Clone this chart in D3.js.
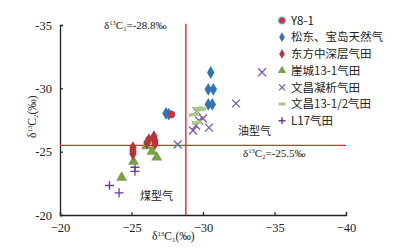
<!DOCTYPE html>
<html><head><meta charset="utf-8">
<script src="https://cdn.jsdelivr.net/npm/d3@7"></script>
<style>
html,body{margin:0;padding:0;background:#fff;}
svg{display:block;}
text{fill:#222;}
</style>
</head><body>
<svg id="chart" width="403" height="248"></svg>
<script>
// ---- data (x = δ13C1, y = δ13C2, ‰) ----
const xTicks = [-20, -25, -30, -35, -40];
const yTicks = [-20, -25, -30, -35];
const seriesNames = ["Y8-1", "松东、宝岛天然气", "东方中深层气田", "崖城13-1气田", "文昌凝析气田", "文昌13-1/2气田", "L17气田"];

const y81X = [-27.78];
const y81Y = [-27.94];

const songdongX = [-30.54, -30.37, -30.72, -30.37, -30.65, -27.41, -27.60];
const songdongY = [-31.25, -29.92, -29.92, -28.73, -28.73, -28.02, -27.96];

const dongfangX = [-25.10, -25.10, -25.10, -26.08, -26.22, -26.57, -26.64, -26.64];
const dongfangY = [-25.32, -25.08, -24.84, -25.71, -25.95, -26.19, -25.87, -25.63];

const yachengX = [-24.31, -25.14, -26.05, -26.43, -26.76];
const yachengY = [-22.96, -24.21, -25.44, -25.00, -24.55];

const wenchangCondX = [-34.13, -32.31, -28.23, -29.30, -29.51, -29.72, -30.00, -30.42, -29.55];
const wenchangCondY = [-31.27, -28.81, -25.56, -26.67, -27.06, -27.46, -27.62, -26.90, -28.20];

const wenchang131X = [-29.65, -29.86, -29.37, -29.58];
const wenchang131Y = [-28.41, -28.33, -27.94, -27.30];

const l17X = [-23.46, -24.13, -25.24, -25.24];
const l17Y = [-22.33, -21.75, -23.77, -23.45];

const boundaryC1 = -28.8;
const boundaryC2 = -25.5;

// ---- drawing ----
const svg = d3.select("#chart");
const x = d3.scaleLinear().domain([-20, -40]).range([60, 346]);
const y = d3.scaleLinear().domain([-20, -35]).range([215, 25]);

const serif = "'Liberation Serif','DejaVu Serif',serif";
const cjk = "'Noto Sans CJK SC','Noto Sans CJK JP',sans-serif";

// axes
const xAxis = d3.axisBottom(x).tickValues(xTicks).tickSize(-3).tickPadding(8).tickFormat(d => d === 0 ? "0" : "\u2212" + Math.abs(d));
const yAxis = d3.axisLeft(y).tickValues(yTicks).tickSize(-3).tickPadding(8).tickFormat(d => "-" + Math.abs(d));

const gx = svg.append("g").attr("transform", "translate(0,215)").call(xAxis);
const gy = svg.append("g").attr("transform", "translate(60,0)").call(yAxis);
[gx, gy].forEach(g => {
  g.select(".domain").attr("stroke", "#222").attr("stroke-width", 1.3);
  g.selectAll(".tick line").attr("stroke", "#222").attr("stroke-width", 1.2);
  g.selectAll(".tick text").attr("font-family", serif).attr("font-size", 12.5).attr("fill", "#222");
});

// boundary lines
svg.append("line").attr("x1", x(boundaryC1)).attr("x2", x(boundaryC1))
  .attr("y1", y(-35.1)).attr("y2", y(-20)).attr("stroke", "#e8262d").attr("stroke-width", 1.4);
svg.append("line").attr("x1", x(-20)).attr("x2", x(-40))
  .attr("y1", y(boundaryC2)).attr("y2", y(boundaryC2)).attr("stroke", "#e8262d").attr("stroke-width", 1.4);

// helper for δ13C labels
function deltaLabel(parent, px, py, sub, rest, size) {
  const t = parent.append("text").attr("x", px).attr("y", py)
    .attr("font-family", serif).attr("font-size", size);
  t.append("tspan").text("δ");
  t.append("tspan").attr("font-size", size * 0.6).attr("dy", -size * 0.35).text("13");
  t.append("tspan").attr("dy", size * 0.35).text("C");
  t.append("tspan").attr("font-size", size * 0.6).attr("dy", size * 0.2).text(sub);
  t.append("tspan").attr("dy", -size * 0.2).text(rest);
  return t;
}

deltaLabel(svg, 104, 29, "1", "=-28.8‰", 11);
deltaLabel(svg, 243, 157, "2", "=-25.5‰", 11);

svg.append("text").attr("x", 238).attr("y", 135).attr("font-family", cjk).attr("font-size", 11).text("油型气");
svg.append("text").attr("x", 140).attr("y", 200).attr("font-family", cjk).attr("font-size", 11).text("煤型气");

// axis titles
deltaLabel(svg, 152, 240, "1", "(‰)", 11.5);
const yt = svg.append("g").attr("transform", "translate(36,138) rotate(-90)");
deltaLabel(yt, 0, 0, "2", "(‰)", 11.5);

// markers
const cBlue = "#2f74b5", cRed = "#b5373a", cGreen = "#77a142", cPurpleX = "#7a5aa6", cLightG = "#a9c98c", cPlus = "#6a3a9c";

function pts(xs, ys) { return xs.map((v, i) => [v, ys[i]]); }

const diamond = d3.symbol().type(d3.symbolDiamond).size(48);
const tri = d3.symbol().type(d3.symbolTriangle).size(52);

function drawDiamonds(data, color) {
  svg.append("g").selectAll("path").data(data).join("path")
    .attr("transform", d => `translate(${x(d[0])},${y(d[1])})`)
    .attr("d", diamond).attr("fill", color);
}
function drawTris(data, color) {
  svg.append("g").selectAll("path").data(data).join("path")
    .attr("transform", d => `translate(${x(d[0])},${y(d[1])})`)
    .attr("d", tri).attr("fill", color);
}
function drawX(data, color) {
  svg.append("g").selectAll("path").data(data).join("path")
    .attr("transform", d => `translate(${x(d[0])},${y(d[1])})`)
    .attr("d", "M-4,-4L4,4M-4,4L4,-4").attr("stroke", color).attr("stroke-width", 1.3).attr("fill", "none");
}
function drawDash(data, color) {
  svg.append("g").selectAll("path").data(data).join("path")
    .attr("transform", d => `translate(${x(d[0])},${y(d[1])})`)
    .attr("d", "M-5,0.8L5,-0.8").attr("stroke", color).attr("stroke-width", 3.5).attr("fill", "none");
}
function drawPlus(data, color) {
  svg.append("g").selectAll("path").data(data).join("path")
    .attr("transform", d => `translate(${x(d[0])},${y(d[1])})`)
    .attr("d", "M-4.5,0L4.5,0M0,-4.5L0,4.5").attr("stroke", color).attr("stroke-width", 1.3).attr("fill", "none");
}

drawPlus(pts(l17X, l17Y), cPlus);
drawTris(pts(yachengX, yachengY), cGreen);
drawDiamonds(pts(dongfangX, dongfangY), cRed);
drawX(pts(wenchangCondX, wenchangCondY), cPurpleX);
drawDash(pts(wenchang131X, wenchang131Y), cLightG);
drawDiamonds(pts(songdongX, songdongY), cBlue);
svg.append("g").selectAll("circle").data(pts(y81X, y81Y)).join("circle")
  .attr("cx", d => x(d[0])).attr("cy", d => y(d[1])).attr("r", 3.6)
  .attr("fill", "#e8262d").attr("stroke", "#2f74b5").attr("stroke-width", 0.8);

// legend
const legendY0 = 20.5, legendStep = 16.7, lx = 282, ltx = 291;
const lg = svg.append("g");
seriesNames.forEach((name, i) => {
  const cy = legendY0 + i * legendStep;
  const g = lg.append("g").attr("transform", `translate(${lx},${cy})`);
  if (i === 0) {
    g.append("circle").attr("r", 3.3).attr("fill", "#e8262d").attr("stroke", "#4bacc6").attr("stroke-width", 1.3);
  } else if (i === 1) {
    g.append("path").attr("d", d3.symbol().type(d3.symbolDiamond).size(28)).attr("fill", cBlue);
  } else if (i === 2) {
    g.append("path").attr("d", d3.symbol().type(d3.symbolDiamond).size(28)).attr("fill", cRed);
  } else if (i === 3) {
    g.append("path").attr("d", d3.symbol().type(d3.symbolTriangle).size(30)).attr("fill", cGreen);
  } else if (i === 4) {
    g.append("path").attr("d", "M-3,-3L3,3M-3,3L3,-3").attr("stroke", cPurpleX).attr("stroke-width", 1.2);
  } else if (i === 5) {
    g.append("path").attr("d", "M-3.5,0L3.5,0").attr("stroke", cLightG).attr("stroke-width", 3);
  } else {
    g.append("path").attr("d", "M-3.5,0L3.5,0M0,-3.5L0,3.5").attr("stroke", cPlus).attr("stroke-width", 1.4);
  }
  lg.append("text").attr("x", ltx).attr("y", cy + 4.2)
    .attr("font-family", cjk + "," + serif).attr("font-size", 11.5).text(name);
});
</script>
</body></html>
